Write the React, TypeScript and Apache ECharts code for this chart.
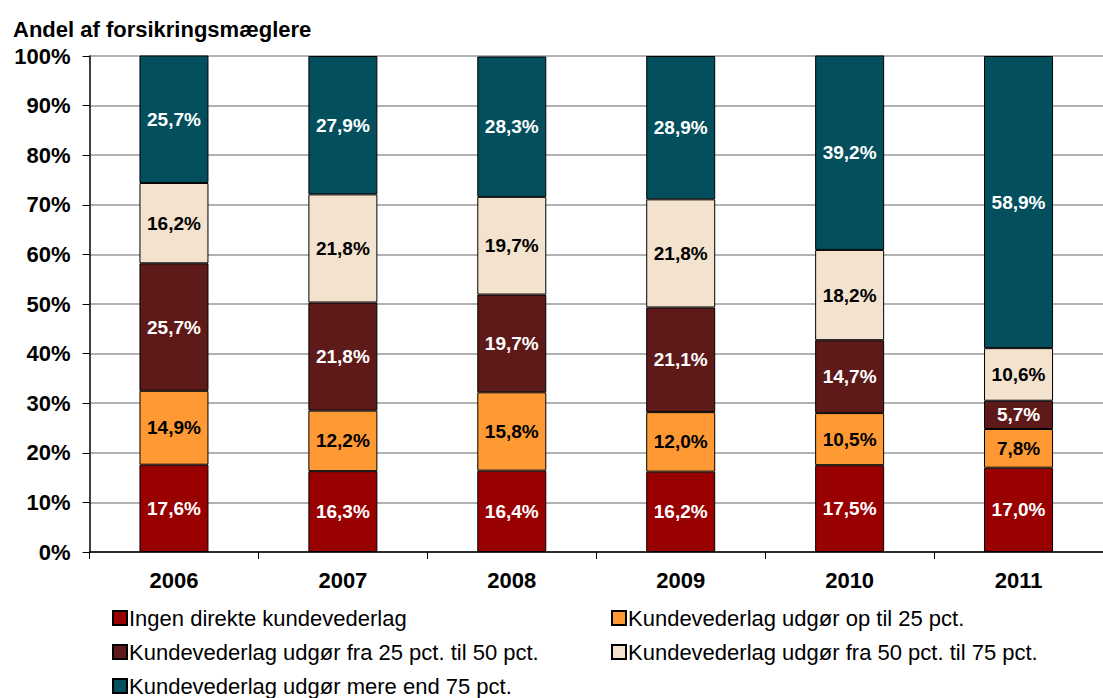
import React, { useEffect, useRef } from "react";
import * as echarts from "echarts";

const years = ["2006", "2007", "2008", "2009", "2010", "2011"];
const seriesNames = [
  "Ingen direkte kundevederlag",
  "Kundevederlag udgør op til 25 pct.",
  "Kundevederlag udgør fra 25 pct. til 50 pct.",
  "Kundevederlag udgør fra 50 pct. til 75 pct.",
  "Kundevederlag udgør mere end 75 pct.",
];
const ingen = [17.6, 16.3, 16.4, 16.2, 17.5, 17.0];
const opTil25 = [14.9, 12.2, 15.8, 12.0, 10.5, 7.8];
const fra25til50 = [25.7, 21.8, 19.7, 21.1, 14.7, 5.7];
const fra50til75 = [16.2, 21.8, 19.7, 21.8, 18.2, 10.6];
const mereEnd75 = [25.7, 27.9, 28.3, 28.9, 39.2, 58.9];
const yTicks = [0, 10, 20, 30, 40, 50, 60, 70, 80, 90, 100];

const colors = ["#990000", "#FF9933", "#5E1A18", "#F2E2CE", "#034F5E"];
const labelColors = ["#ffffff", "#000000", "#ffffff", "#000000", "#ffffff"];
const FONT = "'Liberation Sans', Arial, sans-serif";

// legend placement: [left, top] per series
const legendPos: [number, number][] = [
  [112, 607],
  [611, 607],
  [112, 641],
  [611, 641],
  [112, 675],
];

export default function App() {
  const ref = useRef<HTMLDivElement>(null);
  useEffect(() => {
    if (!ref.current) return;
    const chart = echarts.init(ref.current, null, { renderer: "svg" });
    const dataSets = [ingen, opTil25, fra25til50, fra50til75, mereEnd75];
    const series = dataSets.map((d, i) => ({
      name: seriesNames[i],
      type: "bar",
      stack: "total",
      data: d,
      barWidth: 69,
      itemStyle: { color: colors[i], borderColor: "#000", borderWidth: 1 },
      label: {
        show: true,
        position: "inside",
        color: labelColors[i],
        fontFamily: FONT,
        fontWeight: "bold",
        fontSize: 19,
        formatter: (p: any) => `${Number(p.value).toFixed(1).replace(".", ",")}%`,
      },
    }));
    const legends = seriesNames.map((n, i) => ({
      left: legendPos[i][0],
      top: legendPos[i][1],
      padding: 0,
      itemWidth: 14,
      itemHeight: 14,
      itemGap: 0,
      icon: "rect",
      data: [n],
      textStyle: { fontFamily: FONT, fontSize: 22, color: "#000", padding: [0, 0, 0, -3] },
    }));
    chart.setOption({
      animation: false,
      title: {
        text: "Andel af forsikringsmæglere",
        left: 8,
        top: 13,
        textStyle: { fontFamily: FONT, fontWeight: "bold", fontSize: 22, color: "#000" },
      },
      legend: legends,
      grid: { left: 89.5, top: 56, width: 1026, height: 496, containLabel: false },
      xAxis: {
        type: "category",
        data: years,
        axisLine: { lineStyle: { color: "#000", width: 1.5 } },
        axisTick: { show: true, length: 7, lineStyle: { color: "#000" } },
        axisLabel: { fontFamily: FONT, fontWeight: "bold", fontSize: 22, color: "#000", margin: 17 },
      },
      yAxis: {
        type: "value",
        min: 0,
        max: 100,
        interval: 10,
        axisLine: { show: true, lineStyle: { color: "#000", width: 1.5 } },
        axisTick: { show: true, length: 7, inside: false, lineStyle: { color: "#000" } },
        splitLine: { show: true, lineStyle: { color: "#999", width: 1.5 } },
        axisLabel: {
          fontFamily: FONT,
          fontWeight: "bold",
          fontSize: 22,
          color: "#000",
          margin: 19,
          formatter: (v: number) => (yTicks.includes(v) ? `${v}%` : ""),
        },
      },
      series,
    });
    return () => chart.dispose();
  }, []);
  return <div ref={ref} style={{ width: 1103, height: 698, position: "absolute", left: 0, top: 0 }} />;
}
